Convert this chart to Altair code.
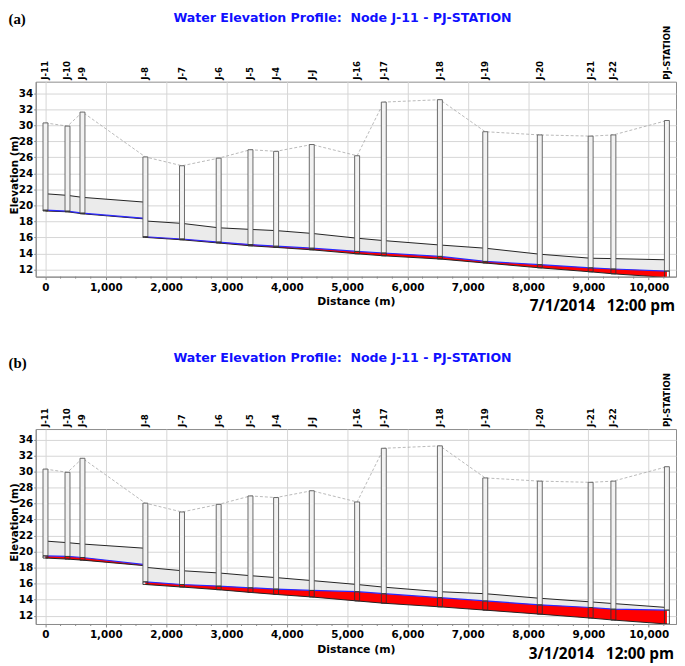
import altair as alt
import pandas as pd

# ---------------- data ----------------
nodes = ["J-11", "J-10", "J-9", "J-8", "J-7", "J-6", "J-5", "J-4", "J-J",
         "J-16", "J-17", "J-18", "J-19", "J-20", "J-21", "J-22", "PJ-STATION"]
node_dist = [0, 365, 613, 1656, 2263, 2871, 3398, 3823, 4414,
             5166, 5608, 6538, 7290, 8194, 9037, 9414, 10301]
ground_elev = [30.3, 29.9, 31.65, 26.05, 24.95, 25.9, 26.95, 26.75, 27.6,
               26.2, 32.9, 33.2, 29.2, 28.8, 28.65, 28.8, 30.6]

# profile points along the pipe (J-8 twice: end of upper reach, start of lower reach)
prof_node = ["J-11", "J-10", "J-9", "J-8",
             "J-8", "J-7", "J-6", "J-5", "J-4", "J-J", "J-16", "J-17", "J-18",
             "J-19", "J-20", "J-21", "J-22", "PJ-STATION"]
prof_reach = ["upper", "upper", "upper", "upper",
              "lower", "lower", "lower", "lower", "lower", "lower", "lower", "lower",
              "lower", "lower", "lower", "lower", "lower", "lower"]

# (a) 7/1/2014 12:00 pm
invert_a = [19.3, 19.2, 18.95, 18.3,
            16.0, 15.7, 15.3, 14.95, 14.75, 14.45, 13.95, 13.7, 13.3, 12.8, 12.2, 11.7, 11.45, 11.0]
crown_a = [21.45, 21.25, 21.0, 20.4,
           18.05, 17.75, 17.2, 17.0, 16.85, 16.5, 15.9, 15.6, 15.05, 14.65, 13.9, 13.4, 13.35, 13.2]
hgl_a = [19.4, 19.28, 19.03, 18.38,
         16.08, 15.8, 15.42, 15.1, 14.9, 14.65, 14.25, 14.05, 13.63, 13.0, 12.6, 12.2, 12.05, 11.8]

# (b) 3/1/2014 12:00 pm
invert_b = [19.2, 19.07, 18.94, 18.24,
            15.9, 15.58, 15.25, 14.91, 14.66, 14.34, 13.85, 13.56, 13.11, 12.7, 12.2, 11.71, 11.46, 10.97]
crown_b = [21.32, 21.12, 20.95, 20.42,
           18.04, 17.62, 17.34, 17.0, 16.76, 16.39, 15.9, 15.57, 15.0, 14.75, 14.18, 13.73, 13.52, 13.03]
hgl_b = [19.47, 19.4, 19.27, 18.37,
         16.23, 15.9, 15.7, 15.49, 15.33, 15.16, 15.0, 14.75, 14.26, 13.85, 13.36, 13.03, 12.82, 12.7]

x_ticks = [0, 1000, 2000, 3000, 4000, 5000, 6000, 7000, 8000, 9000, 10000]
x_minor_ticks = [v + d for v in range(0, 10001, 1000) for d in (250, 500, 750) if v + d <= 10300]
y_ticks = [12, 14, 16, 18, 20, 22, 24, 26, 28, 30, 32, 34]

NB = "\u00a0"
title_text = "Water Elevation Profile:" + NB + " Node J-11 - PJ-STATION"
stamp_a = "7/1/2014" + NB + NB + " 12:00 pm"
stamp_b = "3/1/2014" + NB + NB + " 12:00 pm"

# ---------------- chart ----------------
W, H = 647, 197
LEFT = -27.5           # left edge of the outer annotations (relative to plot)
SANS = "DejaVu Sans"
pos = dict(zip(nodes, node_dist))
gnd = dict(zip(nodes, ground_elev))

xscale = alt.Scale(domain=[-80, 10370], nice=False, zero=False)
xaxis = alt.Axis(values=x_ticks, format=",d", title="Distance (m)", labelFlush=False,
                 labelFont=SANS, labelFontWeight="bold", labelFontSize=10.5, labelColor="black",
                 titleFont=SANS, titleFontWeight="bold", titleFontSize=11, titleColor="black",
                 labelPadding=3, titlePadding=3, tickSize=3, tickColor="#888888",
                 domainColor="#8c8c8c", grid=True, gridColor="#d6d6d6")


def yaxis():
    return alt.Axis(values=y_ticks, title=None, labelFont=SANS, labelFontWeight="bold",
                    labelFontSize=10.5, labelColor="black", labelPadding=1, tickSize=2,
                    tickColor="#888888", domainColor="#8c8c8c", grid=True, gridColor="#d6d6d6")


def text_layer(txt, x, y, **kw):
    return alt.Chart(pd.DataFrame({"t": [txt]})).mark_text(**kw).encode(
        x=alt.value(x), y=alt.value(y), text="t:N")


def panel(inv, crown, hgl, ydom, tag, stamp, title_y, tag_y, stamp_x, stamp_y):
    prof = pd.DataFrame({"node": prof_node, "reach": prof_reach,
                         "dist": [pos[n] for n in prof_node],
                         "invert": inv, "crown": crown, "hgl": hgl})
    col = prof.groupby("node", sort=False).last().reset_index()
    col["ground"] = col["node"].map(gnd)

    ysc = alt.Scale(domain=ydom, nice=False, zero=False)
    X = alt.X("dist:Q", scale=xscale, axis=xaxis)

    def Y(f):
        return alt.Y(f"{f}:Q", scale=ysc, axis=yaxis())

    base = alt.Chart(prof)
    pipe = base.mark_area(color="#ebebeb", clip=True).encode(
        x=X, y=Y("invert"), y2="crown:Q", detail="reach:N")
    water = base.mark_area(color="#ff0000", clip=True).encode(
        x=X, y=Y("invert"), y2="hgl:Q", detail="reach:N")
    crown_l = base.mark_line(color="#222222", strokeWidth=1, clip=True).encode(
        x=X, y=Y("crown"), detail="reach:N")
    inv_l = base.mark_line(color="#222222", strokeWidth=1, clip=True).encode(
        x=X, y=Y("invert"), detail="reach:N")
    hgl_l = base.mark_line(color="#2a2aff", strokeWidth=1.2, clip=True).encode(
        x=X, y=Y("hgl"), detail="reach:N")

    cbase = alt.Chart(col)
    ground_l = cbase.mark_line(color="#a8a8a8", strokeWidth=0.8, strokeDash=[3, 2]).encode(
        x=X, y=Y("ground"))
    col_up = cbase.mark_bar(size=5, fill="#f2f2f2", stroke="#5a5a5a", strokeWidth=0.9,
                            clip=True).encode(x=X, y=Y("hgl"), y2="ground:Q")
    col_lo = cbase.mark_bar(size=5, fillOpacity=0, stroke="#333333", strokeWidth=0.9,
                            clip=True).encode(x=X, y=Y("invert"), y2="hgl:Q")
    labels = cbase.mark_text(angle=270, align="left", baseline="middle", font=SANS,
                             fontWeight="bold", fontSize=8.7, color="black").encode(
        x=X, y=alt.value(-2), text="node:N")

    minor = alt.Chart(pd.DataFrame({"dist": x_minor_ticks})).mark_rule(
        color="#888888", strokeWidth=1).encode(x=X, y=alt.value(H), y2=alt.value(H + 2))

    ttl = text_layer(title_text, 310, title_y, font=SANS, fontWeight="bold", fontSize=12.7,
                     color="#1010ff", align="center", baseline="top")
    tg = text_layer(tag, LEFT, tag_y, font="Liberation Serif", fontWeight="bold", fontSize=15,
                    color="black", align="left", baseline="middle")
    ytl = text_layer("Elevation (m)", LEFT + 2, 94.5, font=SANS, fontWeight="bold",
                     fontSize=10.5, color="black", align="center", baseline="top", angle=270)
    st = text_layer(stamp, stamp_x, stamp_y, font="Open Sans", fontWeight="bold",
                    fontSize=15.5, color="black", align="right", baseline="middle")

    return alt.layer(pipe, water, crown_l, inv_l, hgl_l, ground_l, col_up, col_lo,
                     labels, minor, ttl, tg, ytl, st).properties(width=W, height=H)


pa = panel(invert_a, crown_a, hgl_a, [11.1, 35.45], "(a)", stamp_a,
           title_y=-70.3, tag_y=-62.8, stamp_x=646, stamp_y=226.7)
pb = panel(invert_b, crown_b, hgl_b, [10.97, 35.3], "(b)", stamp_b,
           title_y=-78, tag_y=-66.6, stamp_x=645, stamp_y=227.4)

chart = alt.vconcat(pa, pb, spacing=154, bounds="flush").properties(
    padding=0
).configure_view(stroke="#8c8c8c", strokeWidth=1)

chart.save("out.html", embed_options={"renderer": "svg", "actions": False})
